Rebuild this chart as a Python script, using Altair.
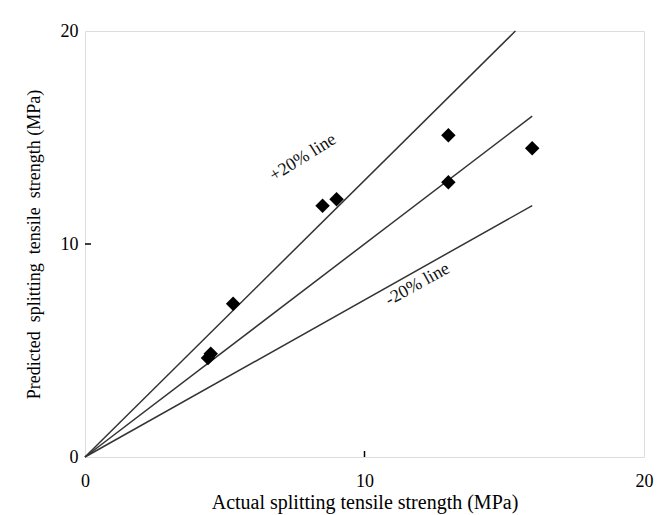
import altair as alt
import pandas as pd

# Data
actual = [4.4, 4.5, 5.3, 8.5, 9.0, 13.0, 13.0, 16.0]
predicted = [4.65, 4.85, 7.2, 11.8, 12.1, 15.1, 12.9, 14.5]

line_names = ["+20% line", "equality", "-20% line"]
line_end_x = [15.4, 16.0, 16.0]
line_end_y = [20.0, 16.0, 11.8]

label_text = ["+20% line", "-20% line"]
label_x = [7.8, 11.9]
label_y = [14.05, 8.1]
label_angle = [328, 331]

ticks = [10]

FONT = "Liberation Serif"

pts = pd.DataFrame({"actual": actual, "predicted": predicted})
lines = pd.DataFrame({
    "name": line_names * 2,
    "x": [0, 0, 0] + line_end_x,
    "y": [0, 0, 0] + line_end_y,
})
labels = pd.DataFrame({"text": label_text, "x": label_x, "y": label_y, "angle": label_angle})
tk = pd.DataFrame({"v": ticks})

xscale = alt.Scale(domain=[0, 20], nice=False)
yscale = alt.Scale(domain=[0, 20], nice=False)

xaxis = alt.Axis(values=[0, 10, 20], grid=False, ticks=False, domain=False,
                 labelFont=FONT, labelFontSize=18, labelColor="#000", labelPadding=15,
                 title="Actual splitting tensile strength (MPa)", titleFont=FONT,
                 titleFontSize=20, titleFontWeight="normal", titleColor="#000", titlePadding=2,
                 labelFlush=False)
yaxis = alt.Axis(values=[0, 10, 20], grid=False, ticks=False, domain=False,
                 labelFont=FONT, labelFontSize=18, labelColor="#000", labelPadding=7,
                 title="Predicted\u00a0 splitting\u00a0 tensile\u00a0 strength\u00a0(MPa)",
                 titleFont=FONT, titleFontSize=18, titleFontWeight="normal", titleColor="#000",
                 titlePadding=17, labelFlush=False)

line_layer = alt.Chart(lines).mark_line(color="#333", strokeWidth=1.5).encode(
    x=alt.X("x:Q", scale=xscale, axis=xaxis),
    y=alt.Y("y:Q", scale=yscale, axis=yaxis),
    detail="name:N",
)

point_layer = alt.Chart(pts).mark_point(shape="diamond", filled=True, color="#000",
                                        opacity=1, size=210).encode(
    x=alt.X("actual:Q", scale=xscale),
    y=alt.Y("predicted:Q", scale=yscale),
)

text_layer = alt.Chart(labels).mark_text(font=FONT, fontSize=18, color="#111").encode(
    x=alt.X("x:Q", scale=xscale),
    y=alt.Y("y:Q", scale=yscale),
    text="text:N",
    angle=alt.Angle("angle:Q", scale=None),
)

xtick = alt.Chart(tk).mark_rule(color="#000", strokeWidth=1.5).encode(
    x=alt.X("v:Q", scale=xscale),
    y=alt.value(426),
    y2=alt.value(420),
)
ytick = alt.Chart(tk).mark_rule(color="#000", strokeWidth=1.5).encode(
    y=alt.Y("v:Q", scale=yscale),
    x=alt.value(0),
    x2=alt.value(6),
)

chart = alt.layer(line_layer, xtick, ytick, point_layer, text_layer).properties(
    width=559,
    height=426,
    autosize=alt.AutoSizeParams(type="none"),
    padding={"left": 85, "top": 31, "right": 15, "bottom": 58},
).configure_view(
    stroke="#222", strokeWidth=1.6
).configure(background="white")

chart.save("out.html", embed_options={"renderer": "svg", "actions": False})
